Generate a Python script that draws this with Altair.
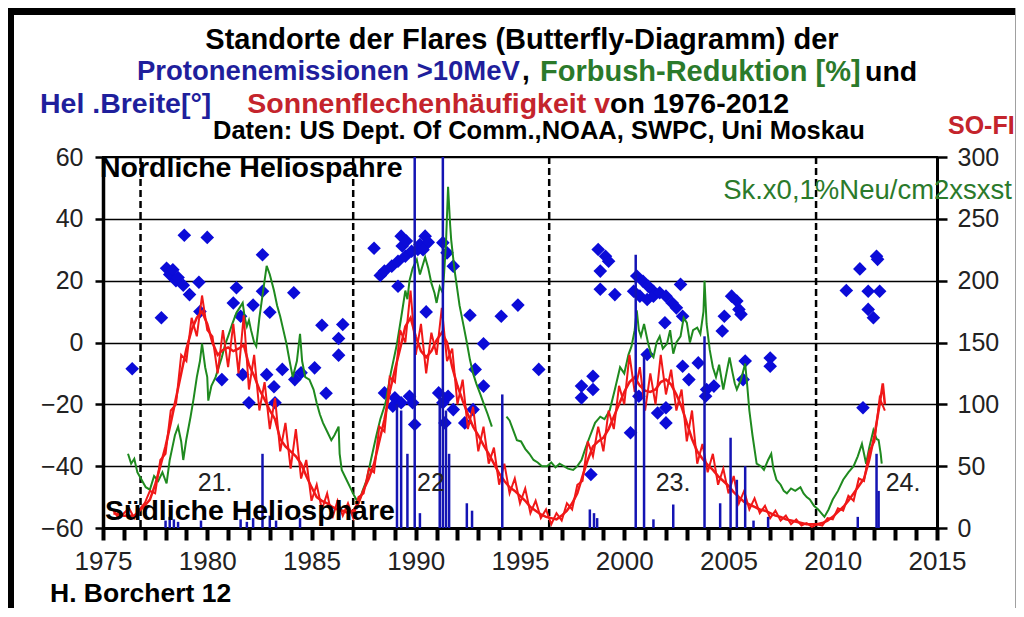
import altair as alt
import pandas as pd

# ---------------- data ----------------
# heliographic latitude of proton flares (left axis)
FLARE_YEAR = [1976.4, 1977.8, 1978.05, 1978.2, 1978.35, 1978.5, 1978.6, 1978.85, 1979.15, 1978.9, 1980.0,
              1979.6, 1979.65, 1980.7, 1981.25, 1981.4, 1981.6, 1981.7, 1982.0, 1982.2, 1982.65, 1982.65,
              1982.85, 1983.0, 1983.2, 1983.25, 1983.6, 1984.15, 1984.2, 1984.5, 1985.15, 1985.5, 1985.7,
              1986.3, 1986.5, 1986.3,
              1988.0, 1988.3, 1988.5, 1988.85, 1989.15, 1989.5, 1989.8, 1990.1, 1989.3, 1989.35, 1989.55,
              1990.2, 1990.45, 1990.6, 1990.35, 1989.15, 1990.5, 1991.3, 1991.5, 1991.8, 1992.6, 1993.25,
              1994.1, 1994.9, 1992.85, 1993.25, 1988.5, 1989.0, 1988.9, 1989.3, 1989.7, 1989.85, 1989.95,
              1991.1, 1991.3, 1991.4, 1991.8, 1991.55, 1992.35, 1992.75, 1995.9,
              1997.95, 1998.5, 1998.5, 1997.95, 1998.4, 1998.75, 1999.1, 1999.25, 1998.85, 1998.85, 1999.55,
              2000.3, 2000.6, 2000.9, 2001.15, 2001.4, 2000.45, 2000.75, 2001.1, 2001.4, 2001.7, 2002.0,
              2002.3, 2002.5, 2002.7, 2002.8, 2001.95, 2005.15, 2004.8, 2004.7, 2003.55, 2002.8, 2003.1,
              2001.1, 2000.7, 2002.0, 2002.0, 2001.6, 2003.95, 2004.3, 2003.9, 2005.5, 2005.6, 2005.4,
              2005.8, 2005.7, 2007.0, 2007.0,
              2012.1, 2011.3, 2012.15, 2010.65, 2011.7, 2012.25, 2011.7, 2011.95, 2011.45]
FLARE_LAT = [-8.5, 8, 24, 22, 23.5, 20, 21, 18.5, 15.5, 34.7, 34,
             19.5, 10, -12, 12.8, 17.7, 8.5, -10.4, -19.5, 12.1, 28.4, 16.6,
             -10.4, 9.8, -14.3, -19.5, -8.7, 16.1, -12, -9.8, -8.2, 5.6, -16.4,
             1.3, 5.8, -4.1,
             30.5, 21.7, 23.1, 24.7, 26.3, 27.9, 29.5, 30.1, 34.4, 31.2, 32.8,
             31.7, 34.4, 32.4, 30, 18.2, 9.9, 32.3, 29, 24.7, 8.8, -0.4,
             8.5, 12.1, -8.7, -14.1, -16.3, -17.9, -20.6, -19.5, -17.4, -19.5, -26.5,
             -16.3, -19.5, -26, -21.7, -17.4, -26, -21.7, -8.7,
             -14.1, -10.9, -15.2, -17.9, -42.7, 30.1, 27.9, 26.3, 23.1, 17.2, 15.5,
             -29.2, 21.5, 19.8, 18.2, 16.6, 16.6, 15, 13.9, 15, 16.1, 15,
             12.8, 11.2, 18.8, 8.5, 6.4, 15, 8.5, 3.7, -6.6, -7.7, -12,
             -3.9, -17.4, -21.1, -26, -22.8, -15.2, -14.1, -17.4, 10.7, 9.1, 13.4,
             -6, -12, -5, -7.7,
             27.9, 23.8, 26.9, 16.8, 16.6, 16.6, 10.7, 8, -21.1]

# sunspot number, quarterly (right axis), starting 1975.5
SSN_START = 1975.5
SSN_QUARTERLY = [14, 8, 12, 16, 8, 15, 20, 30, 28, 55, 60, 95, 100, 140, 135, 170, 155, 188, 160, 155,
                 125, 160, 130, 165, 125, 172, 112, 140, 95, 118, 80, 105, 62, 85, 48, 80, 40, 55, 22, 35,
                 15, 28, 8, 22, 10, 20, 8, 25, 28, 48, 45, 82, 78, 122, 118, 160, 150, 192, 140, 165,
                 125, 158, 140, 178, 135, 145, 100, 120, 80, 98, 62, 82, 52, 65, 35, 52, 28, 40, 20, 32,
                 12, 22, 8, 15, 3, 12, 6, 20, 15, 35, 38, 70, 58, 82, 62, 95, 80, 115, 100, 140,
                 110, 130, 95, 125, 100, 140, 108, 128, 95, 112, 70, 95, 52, 68, 45, 60, 35, 48, 28, 42,
                 20, 30, 15, 24, 12, 18, 8, 14, 6, 10, 3, 7, 2, 4, 1, 3, 2, 8, 7, 16,
                 14, 26, 22, 40, 38, 62, 70, 105, 95]
# smoothed sunspot number
SSN_SM_YEAR = [1975.5, 1976.0, 1976.5, 1977.0, 1977.25, 1977.5, 1977.75, 1978.0, 1978.25, 1978.5, 1978.75,
               1979.0, 1979.25, 1979.5, 1979.75, 1980.0, 1980.25, 1980.5, 1980.75, 1981.0, 1981.25, 1981.5,
               1981.75, 1982.0, 1982.25, 1982.5, 1982.75, 1983.0, 1983.25, 1983.5, 1983.75, 1984.0, 1984.25,
               1984.5, 1984.75, 1985.0, 1985.25, 1985.5, 1985.75, 1986.0, 1986.25, 1986.5, 1986.75, 1987.0,
               1987.25, 1987.5, 1987.75, 1988.0, 1988.25, 1988.5, 1988.75, 1989.0, 1989.25, 1989.5, 1989.75,
               1990.0, 1990.25, 1990.5, 1990.75, 1991.0, 1991.25, 1991.5, 1991.75, 1992.0, 1992.25, 1992.5,
               1992.75, 1993.0, 1993.25, 1993.5, 1993.75, 1994.0, 1994.25, 1994.5, 1994.75, 1995.0, 1995.25,
               1995.5, 1995.75, 1996.0, 1996.25, 1996.5, 1996.75, 1997.0, 1997.25, 1997.5, 1997.75, 1998.0,
               1998.25, 1998.5, 1998.75, 1999.0, 1999.25, 1999.5, 1999.75, 2000.0, 2000.25, 2000.5, 2000.75,
               2001.0, 2001.25, 2001.5, 2001.75, 2002.0, 2002.25, 2002.5, 2002.75, 2003.0, 2003.25, 2003.5,
               2003.75, 2004.0, 2004.25, 2004.5, 2004.75, 2005.0, 2005.25, 2005.5, 2005.75, 2006.0, 2006.25,
               2006.5, 2006.75, 2007.0, 2007.25, 2007.5, 2007.75, 2008.0, 2008.25, 2008.5, 2008.75, 2009.0,
               2009.25, 2009.5, 2009.75, 2010.0, 2010.25, 2010.5, 2010.75, 2011.0, 2011.25, 2011.5, 2011.75,
               2012.0, 2012.25, 2012.4, 2012.5]
SSN_SMOOTH = [12, 10, 10, 18, 23, 35, 50, 66, 85, 105, 125,
              145, 160, 170, 175, 165, 150, 140, 144, 146, 143, 145,
              148, 132, 123, 112, 104, 95, 88, 72, 66, 62, 58,
              52, 42, 33, 25, 22, 20, 17, 15, 14, 12, 14,
              20, 31, 40, 52, 70, 88, 110, 128, 145, 163, 170,
              155, 143, 138, 143, 152, 158, 150, 130, 115, 103, 92,
              82, 75, 67, 60, 52, 44, 38, 33, 30, 26, 22,
              17, 14, 11, 9, 8, 7, 10, 14, 20, 28, 42,
              55, 66, 70, 73, 80, 90, 100, 110, 118, 122, 115,
              111, 110, 112, 118, 120, 116, 108, 98, 85, 72, 62,
              56, 51, 47, 42, 38, 34, 29, 25, 21, 19, 17,
              15, 14, 12, 10, 9, 7, 6, 5, 4, 3, 3,
              3, 4, 6, 9, 13, 17, 22, 28, 34, 40, 55,
              75, 100, 117, 100]

# Forbush reduction / neutron monitor (right axis); data gap 1993.7-1994.3
FB_YEAR = [1976.2, 1976.35, 1976.5, 1976.65, 1976.85, 1977.05, 1977.25, 1977.45, 1977.65, 1977.85, 1978.05,
           1978.2, 1978.3, 1978.45, 1978.6, 1978.75, 1978.85, 1979.0, 1979.2, 1979.35, 1979.5, 1979.65,
           1979.75, 1979.9, 1980.0, 1980.05, 1980.2, 1980.4, 1980.55, 1980.7, 1980.85, 1981.0, 1981.2,
           1981.4, 1981.55, 1981.7, 1981.8, 1981.9, 1982.0, 1982.1, 1982.25, 1982.35, 1982.5, 1982.6,
           1982.75, 1982.85, 1983.0, 1983.2, 1983.35, 1983.5, 1983.65, 1983.8, 1983.95, 1984.1, 1984.3,
           1984.45, 1984.55, 1984.7, 1984.9, 1985.1, 1985.25, 1985.4, 1985.55, 1985.75, 1985.95, 1986.1,
           1986.3, 1986.35, 1986.45, 1986.65, 1986.85, 1987.05, 1987.25, 1987.45, 1987.65, 1987.85, 1988.1,
           1988.3, 1988.55, 1988.8, 1989.1, 1989.3, 1989.5, 1989.6, 1989.7, 1989.85, 1990.05, 1990.2,
           1990.45, 1990.6, 1990.75, 1990.9, 1991.0, 1991.15, 1991.3, 1991.45, 1991.55, 1991.65, 1991.7,
           1991.85, 1991.95, 1992.1, 1992.3, 1992.45, 1992.6, 1992.75, 1992.9, 1993.1, 1993.25, 1993.45,
           1993.65,
           1994.35, 1994.5, 1994.7, 1994.85, 1995.05, 1995.25, 1995.45, 1995.65, 1995.85, 1996.05, 1996.3,
           1996.5, 1996.7, 1996.9, 1997.1, 1997.3, 1997.55, 1997.75, 1997.95, 1998.15, 1998.35, 1998.6,
           1998.85, 1999.05, 1999.3, 1999.55, 1999.8, 2000.0, 2000.2, 2000.35, 2000.5, 2000.6, 2000.7,
           2000.8, 2000.95, 2001.15, 2001.3, 2001.4, 2001.55, 2001.7, 2001.85, 2002.05, 2002.2, 2002.35,
           2002.5, 2002.7, 2002.85, 2003.0, 2003.15, 2003.3, 2003.5, 2003.65, 2003.8, 2003.85, 2003.95,
           2004.1, 2004.25, 2004.4, 2004.55, 2004.75, 2004.9, 2005.05, 2005.2, 2005.3, 2005.4, 2005.6,
           2005.8, 2005.9, 2006.0, 2006.15, 2006.35, 2006.55, 2006.7, 2006.9, 2007.05, 2007.15, 2007.3,
           2007.5, 2007.65, 2007.8, 2008.0, 2008.2, 2008.45, 2008.6, 2008.75, 2008.9, 2009.1, 2009.3,
           2009.45, 2009.6, 2009.8, 2010.0, 2010.25, 2010.5, 2010.75, 2011.0, 2011.2, 2011.4, 2011.5,
           2011.6, 2011.75, 2011.95, 2012.1, 2012.2, 2012.3, 2012.35]
FB_VALUE = [60, 52, 56, 45, 39, 33, 31, 42, 38, 45, 36,
            55, 63, 75, 82, 70, 55, 72, 90, 105, 122, 135,
            149, 130, 122, 103, 115, 122, 130, 138, 148, 155, 165,
            174, 178, 182, 170, 163, 168, 160, 150, 147, 170, 182,
            200, 212, 205, 192, 180, 171, 160, 149, 135, 122, 135,
            157, 135, 122, 120, 112, 101, 92, 85, 78, 71, 75,
            82, 60, 47, 40, 33, 26, 20, 30, 39, 55, 74,
            88, 101, 125, 149, 170, 192, 185, 200, 210, 217, 205,
            219, 210, 198, 190, 182, 195, 190, 230, 276, 245, 233,
            210, 198, 180, 163, 150, 136, 125, 117, 108, 101, 92,
            82,
            90, 87, 78, 71, 70, 64, 60, 55, 53, 50, 50,
            53, 49, 52, 50, 48, 47, 50, 55, 65, 74, 85,
            90, 88, 95, 112, 130, 125, 140, 147, 160, 176, 160,
            155, 165, 149, 140, 138, 150, 155, 145, 149, 160, 141,
            150, 155, 170, 166, 150, 160, 162, 157, 175, 200, 165,
            144, 130, 122, 132, 112, 125, 138, 125, 117, 112, 120,
            133, 115, 95, 75, 52, 50, 47, 55, 60, 48, 39,
            35, 30, 28, 32, 30, 33, 28, 25, 23, 18, 15,
            12, 9, 15, 23, 30, 39, 45, 50, 58, 68, 60,
            52, 65, 79, 72, 71, 60, 52]
FB_GAP_AT = 1994.0

# proton events > 10 MeV (right axis, vertical spikes)
PROTON_YEAR = [1978.0, 1978.2, 1978.4, 1978.6, 1979.7, 1981.6, 1981.9, 1982.2, 1982.65, 1983.0, 1983.3,
               1984.45, 1989.1, 1989.3, 1989.6, 1989.95, 1990.2, 1991.15, 1991.3, 1991.45, 1991.6, 1992.45,
               1992.7, 1994.15, 1998.35, 1998.55, 1998.7, 2000.55, 2000.95, 2001.4, 2002.35, 2003.85,
               2004.6, 2005.1, 2005.4, 2005.8, 2006.2, 2006.9, 2011.2, 2012.1, 2012.2]
PROTON_FLUX = [6, 9, 7, 5, 6, 7, 5, 8, 60, 10, 6,
               8, 100, 95, 60, 320, 12, 106, 320, 95, 60, 20,
               14, 108, 15, 12, 8, 221, 140, 7, 19, 155,
               20, 73, 39, 50, 6, 9, 9, 60, 30]

# solar cycle minima (dashed lines)
CYCLE_MIN = [1976.8, 1987.0, 1996.4, 2009.2]

# ---------------- tables ----------------
flares = pd.DataFrame({"year": FLARE_YEAR, "lat": FLARE_LAT})
ssn_m = pd.DataFrame({"year": [SSN_START + 0.25 * i for i in range(len(SSN_QUARTERLY))],
                      "v": SSN_QUARTERLY})
ssn_s = pd.DataFrame({"year": SSN_SM_YEAR, "v": SSN_SMOOTH})
fb = pd.DataFrame({"year": FB_YEAR, "v": FB_VALUE})
fb["seg"] = (fb["year"] > FB_GAP_AT).astype(int)
prot = pd.DataFrame({"year": PROTON_YEAR, "v": PROTON_FLUX})
mins = pd.DataFrame({"year": CYCLE_MIN})
one = pd.DataFrame({"a": [0]})

FONT = "Liberation Sans"
W, H = 834, 371

x_scale = alt.Scale(domain=[1975, 2015], nice=False, zero=False)
x_axis = alt.Axis(values=list(range(1975, 2016)), labelExpr="datum.value % 5 === 0 ? datum.value : ''",
                  orient="bottom", title=None, grid=False, tickSize=12, tickWidth=4, tickColor="black",
                  domainColor="black", domainWidth=3, labelFontSize=26, labelFont=FONT, labelColor="#222",
                  labelPadding=8, labelOverlap=False, labelFlush=False)
X = alt.X("year:Q", scale=x_scale, axis=x_axis)

yl_scale = alt.Scale(domain=[-60, 60], nice=False, zero=False)
yl_axis = alt.Axis(values=[-60, -40, -20, 0, 20, 40, 60], orient="left", title=None, grid=True,
                   gridColor="black", gridWidth=1.6, tickSize=8, tickWidth=2.5, tickColor="black",
                   domainColor="black", domainWidth=3.5, labelFontSize=25, labelFont=FONT,
                   labelColor="#222", labelPadding=12)
yr_scale = alt.Scale(domain=[0, 300], nice=False, zero=False)
yr_axis = alt.Axis(values=[0, 50, 100, 150, 200, 250, 300], orient="right", title=None, grid=False,
                   tickSize=10, tickWidth=2.5, tickColor="black", domainColor="black", domainWidth=3,
                   labelFontSize=25, labelFont=FONT, labelColor="#222", labelPadding=10)

BLUE = "#0b0bd8"
GREEN = "#1f8a1f"
RED = "#f01818"

diamonds = alt.Chart(flares).mark_point(shape="diamond", filled=True, size=185, color=BLUE,
                                        opacity=1).encode(
    x=X, y=alt.Y("lat:Q", scale=yl_scale, axis=yl_axis))

YR = alt.Y("v:Q", scale=yr_scale, axis=yr_axis)
green = alt.Chart(fb).mark_line(color=GREEN, strokeWidth=2).encode(x=X, y=YR, detail="seg:N")
red_m = alt.Chart(ssn_m).mark_line(color=RED, strokeWidth=2).encode(x=X, y=YR)
red_s = alt.Chart(ssn_s).mark_line(color=RED, strokeWidth=2.5).encode(x=X, y=YR)
spikes = alt.Chart(prot).mark_rule(color="#1414b4", strokeWidth=2.5, clip=True).encode(
    x=X, y=YR, y2=alt.datum(0))
dashed = alt.Chart(mins).mark_rule(color="black", strokeWidth=2.5, strokeDash=[7, 4]).encode(x=X)

right_group = alt.layer(dashed, green, red_m, red_s, spikes)


def txt(s, x, y, size=26, color="black", bold=True, align="left"):
    return alt.Chart(one).mark_text(text=s, font=FONT, fontSize=size, color=color,
                                    fontWeight="bold" if bold else "normal", align=align,
                                    baseline="middle").encode(x=alt.value(x), y=alt.value(y))


# positions are relative to the plot origin
texts = [
    txt("Standorte der Flares (Butterfly-Diagramm) der", 419, -117, 29, align="center"),
    txt("Protonenemissionen >10MeV", 34, -85, 27.5, "#1f1f9c"),
    txt(",", 419, -85, 28),
    txt("Forbush-Reduktion [%]", 437, -85, 29, "#2b7a2b"),
    txt("und", 762, -85, 28.5),
    txt("Hel .Breite[°]", -63, -53, 28.5, "#1f1f9c"),
    txt("Sonnenflechenhäufigkeit v", 507, -53, 28.5, "#c4242c", align="right"),
    txt("on 1976-2012", 507, -53, 28.5),
    txt("Daten: US Dept. Of Comm.,NOAA, SWPC, Uni Moskau", 110, -26, 25.5),
    txt("SO-FI", 845, -31, 25, "#c4242c"),
    txt("Sk.x0,1%Neu/cm2xsxst", 909, 34, 27.5, "#2b7a2b", bold=False, align="right"),
    txt("Nordliche Heliospahre", -3, 11, 28.5),
    txt("Südliche Heliosphäre", 2, 354, 28.5),
    txt("21.", 112, 326, 25, "#222", bold=False, align="center"),
    txt("22", 328, 326, 25, "#222", bold=False, align="center"),
    txt("23.", 570, 326, 25, "#222", bold=False, align="center"),
    txt("24.", 800, 326, 25, "#222", bold=False, align="center"),
    txt("H. Borchert 12", -53, 437, 26.5),
]

frame = [
    alt.Chart(one).mark_rule(color="black", strokeWidth=7).encode(
        x=alt.value(-95), x2=alt.value(913), y=alt.value(-145.5), y2=alt.value(-145.5)),
    alt.Chart(one).mark_rule(color="black", strokeWidth=6).encode(
        x=alt.value(-92), x2=alt.value(-92), y=alt.value(-149), y2=alt.value(451)),
    alt.Chart(one).mark_rule(color="#a0a0a0", strokeWidth=1).encode(
        x=alt.value(912.5), x2=alt.value(912.5), y=alt.value(-149), y2=alt.value(451)),
]

chart = alt.layer(diamonds, right_group, *texts, *frame).resolve_scale(y="independent").properties(
    width=W, height=H,
    padding={"left": 95, "top": 149, "right": 79, "bottom": 80},
    autosize=alt.AutoSizeParams(type="none"),
    background="white",
).configure_view(stroke="black", strokeWidth=2)

chart.save("out.html", embed_options={"renderer": "svg", "actions": False})
